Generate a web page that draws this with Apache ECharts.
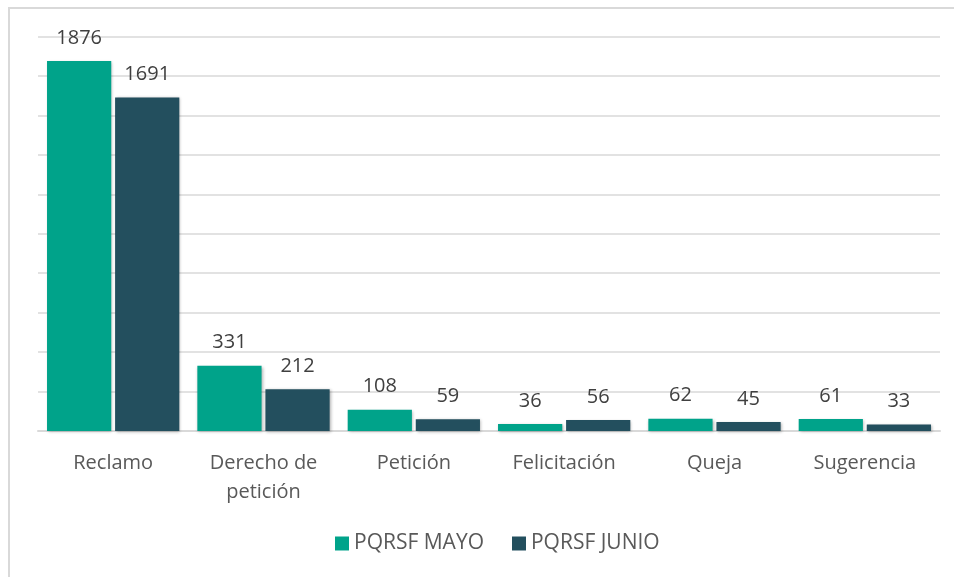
<!DOCTYPE html>
<html>
<head>
<meta charset="utf-8">
<script src="https://cdn.jsdelivr.net/npm/echarts@6/dist/echarts.min.js"></script>
<style>
  html, body { margin: 0; padding: 0; background: #fff; }
  #chart { width: 954px; height: 577px; }
</style>
</head>
<body>
<div id="chart"></div>
<script>
// PQRSF por tipo — mayo vs junio
const categories = ['Reclamo', 'Derecho de\npetición', 'Petición', 'Felicitación', 'Queja', 'Sugerencia'];
const mayo = [1876, 331, 108, 36, 62, 61];
const junio = [1691, 212, 59, 56, 45, 33];
const seriesNames = ['PQRSF MAYO', 'PQRSF JUNIO'];

const FONT = "'Open Sans', sans-serif";
const TEAL = '#00a38a';
const DARK = '#234f5e';

const chart = echarts.init(document.getElementById('chart'));

function barSeries(name, data, color) {
  return {
    name, type: 'bar', data,
    barGap: '6%', barCategoryGap: '12%',
    itemStyle: {
      color,
      shadowColor: 'rgba(0,0,0,0.3)', shadowBlur: 3,
      shadowOffsetX: 1, shadowOffsetY: 1,
    },
    label: {
      show: true, position: 'top', distance: 13,
      color: '#404040', fontSize: 20, fontFamily: FONT,
    },
  };
}

chart.setOption({
  animation: false,
  graphic: [{
    type: 'rect', silent: true,
    shape: { x: 9, y: 8, width: 1000, height: 1000 },
    style: { fill: 'none', stroke: '#d9d9d9', lineWidth: 2 },
  }],
  grid: { left: 38, right: 14, top: 36.5, bottom: 146 },
  legend: {
    bottom: 18, left: 330,
    itemWidth: 14, itemHeight: 14, itemGap: 28,
    icon: 'rect',
    textStyle: { color: '#595959', fontSize: 21, fontFamily: FONT },
    data: seriesNames,
  },
  xAxis: {
    type: 'category', data: categories,
    axisLine: { lineStyle: { color: '#d9d9d9', width: 2 } },
    axisTick: { show: false },
    axisLabel: {
      color: '#595959', fontSize: 20, fontFamily: FONT,
      lineHeight: 29, margin: 18, interval: 0,
    },
  },
  yAxis: {
    type: 'value', min: 0, max: 2000, interval: 200,
    axisLabel: { show: false },
    axisLine: { show: false },
    axisTick: { show: false },
    splitLine: { lineStyle: { color: '#d9d9d9', width: 1.5 } },
  },
  series: [
    barSeries(seriesNames[0], mayo, TEAL),
    barSeries(seriesNames[1], junio, DARK),
  ],
});
</script>
</body>
</html>
